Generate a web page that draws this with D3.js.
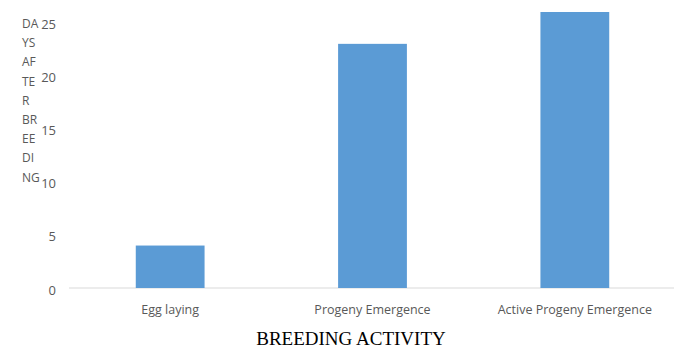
<!DOCTYPE html>
<html>
<head>
<meta charset="utf-8">
<script src="https://cdn.jsdelivr.net/npm/d3@7"></script>
<style>
  body { margin: 0; background: #fff; }
  text { font-family: "Open Sans", "Liberation Sans", sans-serif; }
</style>
</head>
<body>
<div id="chart"></div>
<script>
const categories = ["Egg laying", "Progeny Emergence", "Active Progeny Emergence"];
const days = [4, 23, 26];
const yTicks = [0, 5, 10, 15, 20, 25];
const yTitleLines = ["DA", "YS", "AF", "TE", "R", "BR", "EE", "DI", "NG"];
const xTitle = "BREEDING ACTIVITY";

const width = 674, height = 349;
const plotLeft = 69, plotRight = 676, plotTop = 12, zeroY = 288;

const svg = d3.select("#chart")
    .append("svg")
    .attr("width", width)
    .attr("height", height);

const x = d3.scaleBand()
    .domain(categories)
    .range([plotLeft, plotRight])
    .paddingInner(0.66)
    .paddingOuter(0.33);

const y = d3.scaleLinear()
    .domain([0, 26])
    .range([zeroY, plotTop]);

// zero baseline
svg.append("line")
    .attr("x1", plotLeft)
    .attr("x2", width)
    .attr("y1", y(0))
    .attr("y2", y(0))
    .attr("stroke", "#d9d9d9")
    .attr("stroke-width", 1);

svg.append("g")
    .selectAll("rect")
    .data(days)
    .join("rect")
    .attr("x", (d, i) => x(categories[i]))
    .attr("y", d => y(d))
    .attr("width", x.bandwidth())
    .attr("height", d => y(0) - y(d))
    .attr("fill", "#5b9bd5");

// y tick labels
svg.append("g")
    .selectAll("text")
    .data(yTicks)
    .join("text")
    .attr("x", 56)
    .attr("y", d => y(d) + 2)
    .attr("dy", "0.35em")
    .attr("text-anchor", "end")
    .attr("font-size", 13)
    .attr("fill", "#595959")
    .text(d => d);

// category labels
svg.append("g")
    .selectAll("text")
    .data(categories)
    .join("text")
    .attr("x", d => x(d) + x.bandwidth() / 2)
    .attr("y", 314)
    .attr("text-anchor", "middle")
    .attr("font-size", 12.5)
    .attr("fill", "#595959")
    .text(d => d);

// stacked y axis title
svg.append("g")
    .selectAll("text")
    .data(yTitleLines)
    .join("text")
    .attr("x", 22)
    .attr("y", (d, i) => 28 + i * 19.2)
    .attr("font-size", 12)
    .attr("fill", "#595959")
    .text(d => d);

svg.append("text")
    .attr("x", 351)
    .attr("y", 345)
    .attr("text-anchor", "middle")
    .style("font-family", "'Liberation Serif', 'Times New Roman', serif")
    .attr("font-size", 19)
    .attr("fill", "#000")
    .text(xTitle);
</script>
</body>
</html>
